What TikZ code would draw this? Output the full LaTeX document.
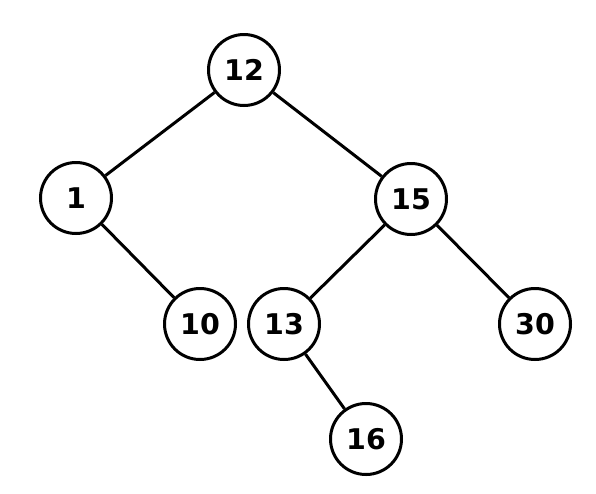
\documentclass[tikz,border=0pt]{standalone}
\usepackage{fontspec}
\setmainfont{DejaVu Sans}
\begin{document}
\begin{tikzpicture}[x=1pt,y=-1pt,
    every node/.style={draw,circle,line width=3pt,minimum size=71pt,
      inner sep=0pt,font=\fontsize{28.5}{31}\selectfont\bfseries}]
      \useasboundingbox (0,0) rectangle (596,493);
      \draw
        (244,70) node (n12){12}
        (76,198) node (n1){1}
        (411,199) node (n15){15}
        (200,324) node (n10){10}
        (284,324) node (n13){13}
        (535,324) node (n30){30}
        (366,439) node (n16){16};
      \begin{scope}[-,line width=3pt]
        \draw (n12) to (n1);
        \draw (n12) to (n15);
        \draw (n1) to (n10);
        \draw (n15) to (n13);
        \draw (n15) to (n30);
        \draw (n13) to (n16);
      \end{scope}
    \end{tikzpicture}
\end{document}
